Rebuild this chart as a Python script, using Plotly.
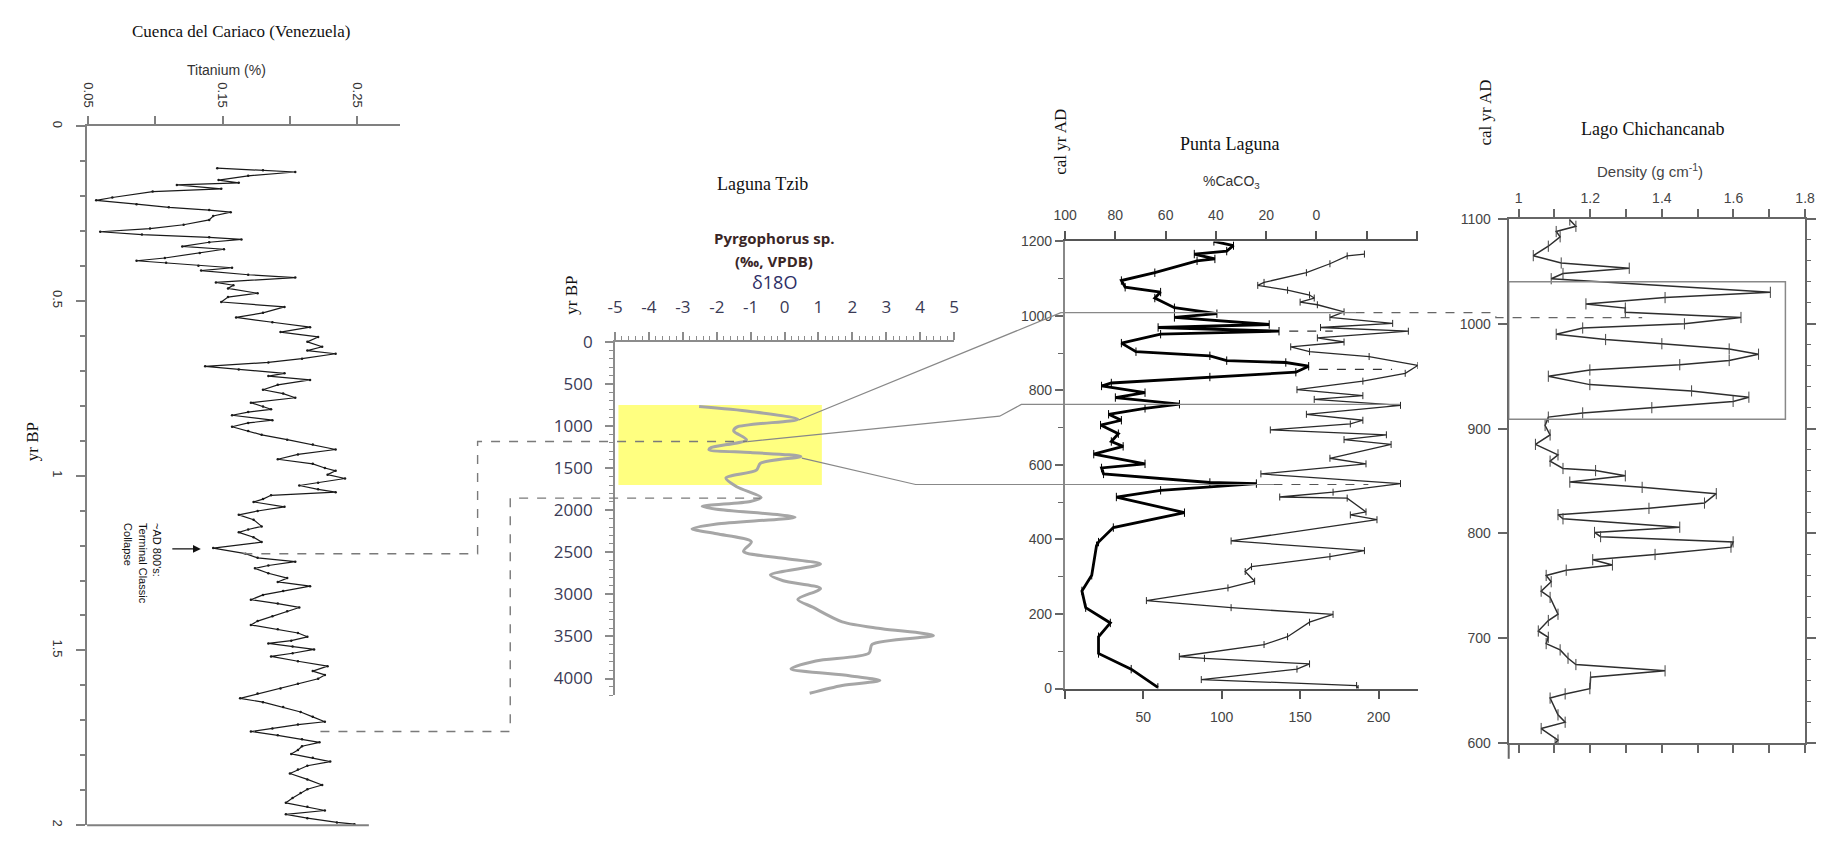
import plotly.graph_objects as go

W, H = 1840, 841

# ---------------- data ----------------
# Cuenca del Cariaco: age (kyr BP) and Titanium (%)
cariaco_age = [0.120,0.126,0.131,0.142,0.154,0.162,0.168,0.179,0.187,0.204,
               0.212,0.223,0.232,0.240,0.246,0.257,0.268,0.282,0.293,0.302,
               0.310,0.318,0.324,0.332,0.344,0.352,0.363,0.377,0.385,0.391,
               0.399,0.405,0.413,0.425,0.433,0.447,0.455,0.464,0.478,0.489,
               0.503,0.517,0.534,0.547,0.561,0.575,0.589,0.603,0.617,0.631,
               0.642,0.651,0.665,0.676,0.687,0.696,0.707,0.715,0.726,0.740,
               0.754,0.765,0.777,0.791,0.802,0.810,0.818,0.827,0.841,0.849,
               0.860,0.872,0.883,0.897,0.911,0.925,0.939,0.953,0.966,0.978,
               0.986,0.997,1.008,1.020,1.028,1.039,1.047,1.056,1.067,1.075,
               1.089,1.101,1.112,1.126,1.145,1.154,1.162,1.176,1.190,1.207,
               1.223,1.235,1.246,1.257,1.265,1.279,1.293,1.304,1.316,1.330,
               1.341,1.355,1.366,1.377,1.388,1.402,1.416,1.427,1.439,1.450,
               1.461,1.472,1.480,1.489,1.497,1.508,1.517,1.531,1.545,1.559,
               1.570,1.581,1.595,1.609,1.623,1.637,1.648,1.662,1.676,1.690,
               1.704,1.712,1.723,1.732,1.743,1.754,1.763,1.774,1.785,1.796,
               1.807,1.818,1.830,1.841,1.852,1.869,1.885,1.897,1.908,1.922,
               1.936,1.947,1.958,1.969,1.980,1.992,1.997]
cariaco_ti = [0.146,0.180,0.204,0.169,0.147,0.162,0.116,0.149,0.098,0.068,
              0.056,0.086,0.110,0.140,0.156,0.143,0.140,0.121,0.096,0.059,
              0.090,0.140,0.164,0.140,0.120,0.151,0.133,0.107,0.086,0.108,
              0.132,0.157,0.134,0.169,0.204,0.145,0.158,0.154,0.176,0.154,
              0.149,0.196,0.180,0.160,0.187,0.215,0.193,0.221,0.213,0.224,
              0.213,0.234,0.209,0.184,0.137,0.162,0.196,0.184,0.215,0.191,
              0.180,0.195,0.204,0.171,0.180,0.186,0.169,0.157,0.187,0.169,
              0.157,0.169,0.179,0.198,0.217,0.234,0.206,0.191,0.217,0.226,
              0.234,0.228,0.241,0.221,0.207,0.221,0.234,0.186,0.180,0.173,
              0.196,0.176,0.162,0.173,0.179,0.169,0.162,0.173,0.179,0.143,
              0.167,0.176,0.204,0.184,0.174,0.184,0.198,0.191,0.215,0.195,
              0.180,0.171,0.191,0.207,0.198,0.187,0.176,0.171,0.191,0.206,
              0.213,0.201,0.184,0.202,0.218,0.202,0.186,0.206,0.228,0.217,
              0.226,0.221,0.206,0.193,0.176,0.163,0.180,0.195,0.208,0.217,
              0.226,0.206,0.187,0.171,0.191,0.209,0.222,0.209,0.206,0.201,
              0.217,0.230,0.213,0.206,0.200,0.213,0.224,0.213,0.208,0.202,
              0.197,0.213,0.226,0.197,0.213,0.235,0.248]

# Laguna Tzib: age (yr BP) and d18O (permil VPDB)
tzib_age = [768,826,920,1012,1058,1163,1256,1280,1314,1361,1442,1523,1617,1721,
            1849,1896,1954,1989,2082,2163,2221,2279,2373,2489,2570,2640,2768,
            2838,2931,3059,3152,3326,3408,3489,3594,3698,3791,3884,3966,4024,
            4082,4175]
tzib_d18o = [-2.52,-1.01,0.39,-1.41,-1.50,-1.12,-2.17,-2.23,-1.01,0.48,-0.71,
             -0.83,-1.73,-1.41,-0.69,-1.01,-2.43,-2.00,0.31,-2.00,-2.73,-2.00,
             -0.98,-1.21,-0.04,1.06,-0.42,-0.04,1.06,0.39,0.83,1.70,2.87,4.39,
             2.58,2.49,0.92,0.19,1.91,2.81,1.70,0.74]

# Punta Laguna: %CaCO3 (top axis, reversed)
pl_caco3_yr = [1200,1189,1174,1166,1153,1148,1116,1095,1077,1064,1048,1022,1006,
               996,977,969,959,951,927,904,893,880,875,865,849,836,820,812,794,
               781,763,752,736,720,707,684,663,650,629,603,592,576,553,550,532,
               514,472,432,393,383,304,262,217,176,139,94,52,3]
pl_caco3 = [40.8,33.0,35.7,48.6,40.4,47.5,64.3,77.6,76.1,62.0,64.3,56.5,39.6,
            56.5,18.8,63.0,14.9,62.0,77.6,71.8,42.4,35.7,12.2,3.1,8.2,42.4,81.6,
            85.5,68.2,80.0,54.5,68.2,82.7,77.6,85.9,78.8,81.6,76.9,88.6,68.2,
            85.5,84.7,42.4,23.9,62.0,79.6,52.5,80.8,86.7,87.5,89.4,93.3,91.8,
            82.0,86.7,86.7,73.7,63.1]
# Punta Laguna: second record (bottom axis)
pl_thin_yr = [1166,1161,1140,1116,1090,1082,1069,1056,1048,1037,1030,1011,996,
              980,969,959,941,930,917,904,891,867,846,825,802,786,776,760,736,
              720,710,694,681,668,655,618,603,576,550,527,514,511,474,466,453,
              396,370,354,327,314,288,270,236,217,199,178,139,118,86,81,66,52,
              24,8,0]
pl_thin = [191,180,169,154,127,123,142,156,159,150,161,178,169,209,163,219,161,
           178,144,156,194,225,217,190,148,190,159,214,154,190,182,131,205,178,
           208,169,192,125,214,171,137,180,192,182,199,106,191,169,119,115,121,
           104,52,106,171,156,142,127,73,89,156,148,87,186,187]

# Lago Chichancanab: cal yr AD and density (g cm-1)
ch_yr = [1099,1093,1088,1083,1074,1065,1058,1053,1048,1043,1030,1025,1019,1015,
         1011,1006,1000,996,990,985,981,976,971,965,961,956,950,942,936,930,926,
         920,915,911,903,894,885,875,869,862,860,855,849,844,838,829,824,818,
         814,806,801,797,792,787,780,775,770,765,760,754,745,739,723,717,707,
         701,695,689,681,675,669,663,652,647,643,627,620,614,603,600]
ch_density = [1.143,1.160,1.105,1.116,1.083,1.041,1.119,1.309,1.124,1.091,1.703,
              1.409,1.188,1.298,1.298,1.621,1.463,1.179,1.105,1.243,1.400,1.588,
              1.670,1.588,1.450,1.199,1.083,1.199,1.483,1.643,1.599,1.372,1.179,
              1.083,1.074,1.088,1.047,1.110,1.088,1.124,1.215,1.298,1.143,1.345,
              1.552,1.519,1.364,1.110,1.124,1.450,1.212,1.229,1.599,1.593,1.381,
              1.207,1.262,1.133,1.077,1.091,1.063,1.088,1.110,1.083,1.055,1.083,
              1.077,1.116,1.138,1.160,1.409,1.201,1.199,1.130,1.088,1.110,1.130,
              1.063,1.110,1.102]

tzib_ticks = [-5, -4, -3, -2, -1, 0, 1, 2, 3, 4, 5]
tzib_ticktext = ['-5', '-4', '-3', '-2', '-1', '0', '1', '2', '3', '4', '5']
pl_bottom_ticks = [50, 100, 150, 200]
pl_top_ticks = [100, 80, 60, 40, 20, 0]
ch_ticks = [1.0, 1.2, 1.4, 1.6, 1.8]
ch_ticktext = ['1', '1.2', '1.4', '1.6', '1.8']


# ---------------- helpers ----------------
def fx(p):
    return p / W


def fy(p):
    return 1 - p / H


def P(x, y):
    return f"{fx(x):.5f},{fy(y):.5f}"


def path(points):
    return "M " + " L ".join(P(x, y) for x, y in points)


SERIF = 'Liberation Serif, Times New Roman, serif'
SANS = 'Liberation Sans, Arial, sans-serif'
CAL = 'Open Sans, sans-serif'

fig = go.Figure()

fig.add_trace(go.Scatter(x=cariaco_ti, y=cariaco_age, xaxis='x', yaxis='y',
                         mode='lines+markers',
                         line=dict(color='#1a1a1a', width=1.2),
                         marker=dict(size=2.5, color='#1a1a1a')))
fig.add_trace(go.Scatter(x=tzib_d18o, y=tzib_age, xaxis='x2', yaxis='y2',
                         mode='lines',
                         line=dict(color='#a6a6a6', width=3, shape='spline', smoothing=0.8)))
fig.add_trace(go.Scatter(x=pl_thin, y=pl_thin_yr, xaxis='x3', yaxis='y3',
                         mode='lines+markers',
                         line=dict(color='#2a2a2a', width=1.3),
                         marker=dict(symbol='line-ns', size=5, color='#2a2a2a',
                                     line=dict(width=1, color='#2a2a2a'))))
fig.add_trace(go.Scatter(x=pl_caco3, y=pl_caco3_yr, xaxis='x4', yaxis='y3',
                         mode='lines+markers',
                         line=dict(color='#000000', width=2.8),
                         marker=dict(symbol='line-ns', size=6, color='#000',
                                     line=dict(width=1, color='#000'))))
fig.add_trace(go.Scatter(x=ch_density, y=ch_yr, xaxis='x5', yaxis='y5',
                         mode='lines+markers',
                         line=dict(color='#2e2e2e', width=1.5),
                         marker=dict(symbol='line-ns', size=8, color='#2e2e2e',
                                     line=dict(width=1, color='#444'))))
fig.add_trace(go.Scatter(x=[None], y=[None], xaxis='x5', yaxis='y6',
                         mode='lines', hoverinfo='skip'))

base = dict(showgrid=False, zeroline=False, fixedrange=True)

layout = dict(
    width=W, height=H,
    margin=dict(l=0, r=0, t=0, b=0),
    paper_bgcolor='white', plot_bgcolor='white',
    showlegend=False,
    xaxis=dict(base, domain=[fx(77), fx(393)], range=[0.04926, 0.2815], anchor='y',
               side='top', showline=True, linecolor='#808080', linewidth=2,
               ticks='outside', ticklen=8, tickwidth=2, tickcolor='#808080',
               tick0=0.05, dtick=0.1, tickformat='.2f', tickangle=90,
               ticklabelstandoff=4,
               minor=dict(ticks='outside', ticklen=8, tickwidth=2, tickcolor='#808080',
                          tickmode='linear', tick0=0.05, dtick=0.05),
               tickfont=dict(family=SANS, size=13, color='#333')),
    yaxis=dict(base, domain=[fy(833), fy(117)], range=[2, 0], anchor='x',
               showline=True, linecolor='#808080', linewidth=2,
               ticks='outside', ticklen=9, tickwidth=2, tickcolor='#808080',
               tick0=0, dtick=0.5, tickangle=90, ticklabelstandoff=8,
               minor=dict(ticks='outside', ticklen=5, tickwidth=1.5, tickcolor='#808080',
                          tickmode='linear', tick0=0, dtick=0.1),
               tickfont=dict(family=SANS, size=13, color='#333')),
    xaxis2=dict(base, domain=[fx(611), fx(954)], range=[-5, 5], anchor='y2',
                side='top', showline=True, linecolor='#8c8c8c', linewidth=2,
                ticks='outside', ticklen=8, tickwidth=1.5, tickcolor='#8c8c8c',
                tickmode='array', tickvals=tzib_ticks, ticktext=tzib_ticktext,
                ticklabelstandoff=12,
                minor=dict(ticks='outside', ticklen=4, tickwidth=1, tickcolor='#8c8c8c',
                           tickmode='linear', tick0=0, dtick=0.2),
                tickfont=dict(family=CAL, size=17, color='#3a3a55')),
    yaxis2=dict(base, domain=[fy(700), fy(338)], range=[4200, 0], anchor='x2',
                showline=True, linecolor='#8c8c8c', linewidth=2,
                ticks='outside', ticklen=8, tickwidth=1.5, tickcolor='#8c8c8c',
                tick0=0, dtick=500, ticklabelstandoff=9,
                minor=dict(ticks='outside', ticklen=4, tickwidth=1, tickcolor='#8c8c8c',
                           tickmode='linear', tick0=0, dtick=100),
                tickfont=dict(family=CAL, size=17, color='#3a3a55')),
    xaxis3=dict(base, domain=[fx(1066), fx(1423)], range=[0, 225], anchor='y3',
                side='bottom', showline=True, linecolor='#555', linewidth=2,
                ticks='outside', ticklen=8, tickwidth=1.5, tickcolor='#555',
                tickmode='array', tickvals=pl_bottom_ticks,
                ticklabelstandoff=7,
                minor=dict(ticks='outside', ticklen=8, tickwidth=1.5, tickcolor='#555',
                           tickmode='array', tickvals=[0.3]),
                tickfont=dict(family=SANS, size=14, color='#444')),
    xaxis4=dict(base, overlaying='x3', range=[100.1, -40.3], anchor='y3',
                side='top', showline=True, linecolor='#555', linewidth=2,
                ticks='outside', ticklen=8, tickwidth=1.5, tickcolor='#555',
                tickmode='array', tickvals=pl_top_ticks,
                ticklabelstandoff=6,
                minor=dict(ticks='outside', ticklen=8, tickwidth=1.5, tickcolor='#555',
                           tickmode='linear', tick0=0, dtick=20),
                tickfont=dict(family=SANS, size=14, color='#444')),
    yaxis3=dict(base, domain=[fy(693), fy(235)], range=[0, 1200], anchor='x3',
                showline=True, linecolor='#888', linewidth=2,
                ticks='outside', ticklen=8, tickwidth=1.5, tickcolor='#666',
                tick0=0, dtick=200,
                minor=dict(ticks='outside', ticklen=5, tickwidth=1, tickcolor='#666',
                           tickmode='linear', tick0=0, dtick=100),
                tickfont=dict(family=SANS, size=14, color='#444')),
    xaxis5=dict(base, domain=[fx(1515), fx(1815)], range=[0.9724, 1.8005], anchor='y5',
                side='top', showline=True, linecolor='#666', linewidth=2, mirror='ticks',
                ticks='outside', ticklen=8, tickwidth=1.5, tickcolor='#666',
                tickmode='array', tickvals=ch_ticks, ticktext=ch_ticktext,
                minor=dict(ticks='outside', ticklen=8, tickwidth=1.5, tickcolor='#666',
                           tickmode='linear', tick0=1.0, dtick=0.1),
                tickfont=dict(family=SANS, size=14, color='#444')),
    yaxis5=dict(base, domain=[fy(749), fy(212)], range=[600, 1100], anchor='x5',
                showline=True, linecolor='#666', linewidth=2, mirror=True,
                ticks='outside', ticklen=9, tickwidth=1.5, tickcolor='#666',
                tick0=600, dtick=100, ticklabelstandoff=4,
                tickfont=dict(family=SANS, size=14, color='#444')),
    yaxis6=dict(base, overlaying='y5', side='right', anchor='x5', range=[600, 1100],
                showline=False, showticklabels=False,
                ticks='outside', ticklen=10, tickwidth=1.5, tickcolor='#666',
                tick0=600, dtick=100,
                minor=dict(ticks='outside', ticklen=5, tickwidth=1, tickcolor='#666',
                           tickmode='linear', tick0=600, dtick=20)),
)
fig.update_layout(**layout)

# ---------------- shapes ----------------
gray = '#7a7a7a'
shapes = [
    # Cariaco bottom axis line
    dict(type='line', xref='paper', yref='paper', x0=fx(77), x1=fx(362),
         y0=fy(833), y1=fy(833), line=dict(color='#808080', width=2)),
    # Chichancanab left axis extension
    dict(type='line', xref='paper', yref='paper', x0=fx(1515), x1=fx(1515),
         y0=fy(749), y1=fy(765), line=dict(color='#666', width=2)),
    # Laguna Tzib highlighted interval
    dict(type='rect', xref='x2', yref='y2', x0=-4.9, x1=1.1, y0=750, y1=1700,
         fillcolor='#ffff80', line=dict(width=0), layer='below'),
    # Chichancanab box
    dict(type='rect', xref='x5', yref='y5', x0=0.9724, x1=1.745, y0=909, y1=1040,
         line=dict(color='#888', width=1.5)),
    # dashed connectors Cariaco -> Tzib
    dict(type='path', xref='paper', yref='paper',
         path=path([(235, 555), (472, 555), (472, 440), (745, 440)]),
         line=dict(color=gray, width=1.4, dash='dash')),
    dict(type='path', xref='paper', yref='paper',
         path=path([(313, 737), (505, 737), (505, 498), (758, 498)]),
         line=dict(color=gray, width=1.4, dash='dash')),
    # solid connectors Tzib -> Punta Laguna
    dict(type='path', xref='paper', yref='paper',
         path=path([(797, 418), (1062, 308), (1360, 308)]),
         line=dict(color='#888', width=1.2)),
    dict(type='path', xref='paper', yref='paper',
         path=path([(745, 440), (1000, 414), (1022, 402), (1405, 402)]),
         line=dict(color='#888', width=1.2)),
    dict(type='path', xref='paper', yref='paper',
         path=path([(800, 457), (915, 484), (1277, 484)]),
         line=dict(color='#888', width=1.2)),
    # dashed connectors Punta Laguna -> Chichancanab
    dict(type='path', xref='paper', yref='paper',
         path=path([(1360, 308), (1502, 308), (1502, 313), (1650, 313)]),
         line=dict(color='#666', width=1.2, dash='dash')),
    dict(type='path', xref='paper', yref='paper',
         path=path([(1277, 484), (1373, 484)]),
         line=dict(color='#555', width=1.2, dash='dash')),
    dict(type='path', xref='paper', yref='paper',
         path=path([(1293, 327), (1337, 327)]),
         line=dict(color='#333', width=1.2, dash='dash')),
    dict(type='path', xref='paper', yref='paper',
         path=path([(1323, 366), (1397, 366)]),
         line=dict(color='#333', width=1.2, dash='dash')),
]
fig.update_layout(shapes=shapes)

# ---------------- annotations ----------------
def txt(x, y, text, family, size, color='#111', angle=0, **kw):
    d = dict(x=fx(x), y=fy(y), xref='paper', yref='paper', text=text, showarrow=False,
             font=dict(family=family, size=size, color=color), textangle=angle,
             xanchor='center', yanchor='middle')
    d.update(kw)
    return d


annotations = [
    txt(233, 20, 'Cuenca del Cariaco (Venezuela)', SERIF, 17),
    txt(218, 59, 'Titanium (%)', SANS, 14, '#333'),
    txt(22, 440, 'yr BP', SERIF, 17, angle=-90),
    txt(133, 565, "~AD 800's:<br>Terminal Classic<br>Collapse", SANS, 11, '#111',
        angle=90, align='left'),
    dict(x=fx(192), y=fy(550), xref='paper', yref='paper', ax=-30, ay=0,
         text='', showarrow=True, arrowhead=2,
         arrowsize=1.2, arrowwidth=1.3, arrowcolor='#111'),
    txt(760, 176, 'Laguna Tzib', SERIF, 18),
    txt(772, 231, '<b>Pyrgophorus sp.</b>', CAL, 15, '#3a2626'),
    txt(772, 255, '<b>(‰, VPDB)</b>', CAL, 15, '#3a2626'),
    txt(772, 277, 'δ18O', CAL, 18, '#2e2e66'),
    txt(567, 290, 'yr BP', SERIF, 17, angle=-90),
    txt(1062, 133, 'cal yr AD', SERIF, 17, angle=-90),
    txt(1233, 135, 'Punta Laguna', SERIF, 18),
    txt(1235, 174, '%CaCO<sub>3</sub>', SANS, 14, '#333'),
    txt(1492, 103, 'cal yr AD', SERIF, 17, angle=-90),
    txt(1660, 120, 'Lago Chichancanab', SERIF, 18),
    txt(1658, 162, 'Density (g cm<sup>-1</sup>)', SANS, 15, '#444'),
]
fig.update_layout(annotations=annotations)

fig.write_html("out.html")
